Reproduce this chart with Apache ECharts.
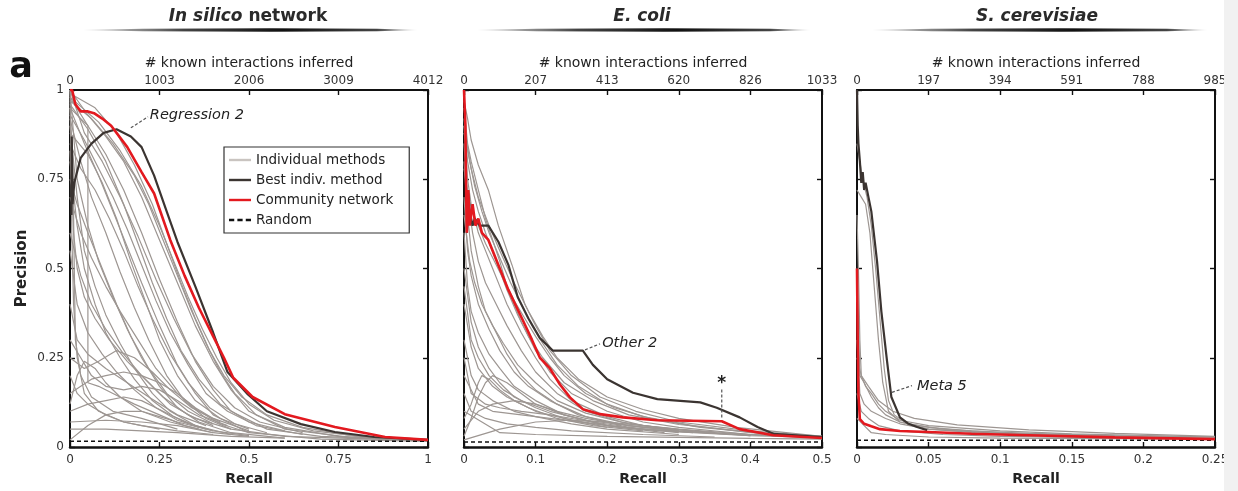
<!DOCTYPE html>
<html><head><meta charset="utf-8">
<script src="https://cdn.jsdelivr.net/npm/echarts@6/dist/echarts.min.js"></script>
<style>html,body{margin:0;padding:0;background:#fff}#c{width:1238px;height:491px}</style>
</head><body><div id="c"></div><script>
// ---------------- DATA ----------------
const panelTitles = [['In silico', ' network'], ['E. coli', ''], ['S. cerevisiae', '']];
const recallMax = [1, 0.5, 0.25];
const recallStep = [0.25, 0.1, 0.05];
const precisionTicks = ['0', '0.25', '0.5', '0.75', '1'];
const topTickLabels = [
  ['0', '1003', '2006', '3009', '4012'],
  ['0', '207', '413', '620', '826', '1033'],
  ['0', '197', '394', '591', '788', '985']
];
const randomPrecision = [0.016, 0.014, 0.019];
const legendNames = ['Individual methods', 'Best indiv. method', 'Community network', 'Random'];

// In silico network
const silicoGray = [
  [[0,1],[0.05,0.93],[0.1,0.87],[0.15,0.8],[0.2,0.7],[0.25,0.58],[0.3,0.46],[0.35,0.34],[0.4,0.24],[0.45,0.16],[0.5,0.1],[0.6,0.05],[0.8,0.025],[1,0.018]],
  [[0,0.98],[0.05,0.9],[0.1,0.82],[0.15,0.72],[0.2,0.6],[0.25,0.47],[0.3,0.35],[0.35,0.24],[0.4,0.16],[0.45,0.1],[0.55,0.05],[0.7,0.03],[1,0.018]],
  [[0,0.95],[0.04,0.85],[0.08,0.76],[0.12,0.66],[0.16,0.56],[0.2,0.46],[0.25,0.34],[0.3,0.23],[0.35,0.15],[0.4,0.09],[0.5,0.04],[0.7,0.022],[1,0.016]],
  [[0,0.92],[0.03,0.8],[0.06,0.7],[0.1,0.6],[0.14,0.49],[0.18,0.39],[0.22,0.3],[0.27,0.2],[0.32,0.13],[0.38,0.08],[0.45,0.05],[0.6,0.03],[1,0.017]],
  [[0,1],[0.02,0.75],[0.05,0.62],[0.08,0.52],[0.12,0.42],[0.16,0.33],[0.2,0.25],[0.25,0.17],[0.3,0.11],[0.36,0.07],[0.45,0.04],[0.6,0.025]],
  [[0,0.9],[0.02,0.7],[0.04,0.55],[0.07,0.45],[0.1,0.37],[0.14,0.29],[0.18,0.22],[0.23,0.15],[0.28,0.1],[0.35,0.06],[0.45,0.035]],
  [[0,0.97],[0.06,0.92],[0.12,0.85],[0.18,0.76],[0.22,0.68],[0.26,0.58],[0.3,0.48],[0.34,0.38],[0.38,0.29],[0.42,0.21],[0.46,0.15],[0.52,0.09],[0.6,0.055],[0.75,0.03],[1,0.018]],
  [[0,0.85],[0.03,0.78],[0.07,0.72],[0.11,0.64],[0.15,0.55],[0.19,0.45],[0.23,0.36],[0.28,0.26],[0.33,0.18],[0.39,0.11],[0.46,0.065],[0.55,0.04]],
  [[0,0.7],[0.03,0.6],[0.06,0.53],[0.1,0.45],[0.14,0.38],[0.19,0.3],[0.24,0.22],[0.3,0.15],[0.36,0.1],[0.42,0.065],[0.5,0.04]],
  [[0,0.15],[0.03,0.17],[0.06,0.19],[0.1,0.2],[0.15,0.21],[0.2,0.2],[0.25,0.18],[0.3,0.15],[0.35,0.11],[0.4,0.08],[0.5,0.045]],
  [[0,0.95],[0.03,0.92],[0.05,0.9],[0.05,0.18],[0.08,0.17],[0.12,0.15],[0.18,0.12],[0.25,0.09],[0.32,0.06],[0.4,0.04]],
  [[0,0.1],[0.05,0.12],[0.1,0.13],[0.15,0.14],[0.2,0.13],[0.26,0.1],[0.32,0.07],[0.4,0.045]],
  [[0,0.07],[0.1,0.075],[0.2,0.07],[0.3,0.06],[0.4,0.04],[0.5,0.03]],
  [[0,0.2],[0.02,0.15],[0.05,0.12],[0.1,0.09],[0.15,0.07],[0.2,0.06],[0.3,0.045],[0.4,0.035]],
  [[0,1],[0.04,0.88],[0.09,0.8],[0.14,0.7],[0.19,0.59],[0.24,0.47],[0.29,0.36],[0.34,0.26],[0.4,0.17],[0.46,0.11],[0.53,0.07],[0.65,0.04]],
  [[0,0.8],[0.02,0.62],[0.04,0.5],[0.07,0.4],[0.1,0.32],[0.14,0.25],[0.18,0.19],[0.23,0.13],[0.29,0.085],[0.36,0.055]],
  [[0,0.6],[0.03,0.48],[0.06,0.4],[0.1,0.33],[0.15,0.26],[0.2,0.2],[0.26,0.14],[0.33,0.09],[0.4,0.06]],
  [[0,0.98],[0.08,0.91],[0.14,0.83],[0.2,0.73],[0.25,0.62],[0.29,0.52],[0.33,0.42],[0.37,0.33],[0.41,0.25],[0.45,0.18],[0.5,0.12],[0.57,0.075],[0.68,0.045],[0.85,0.025],[1,0.018]],
  [[0,0.25],[0.04,0.22],[0.08,0.24],[0.13,0.27],[0.18,0.25],[0.23,0.21],[0.28,0.16],[0.34,0.11],[0.42,0.07]],
  [[0,0.4],[0.02,0.3],[0.05,0.26],[0.1,0.22],[0.16,0.18],[0.22,0.14],[0.3,0.09],[0.38,0.06]],
  [[0,0.88],[0.05,0.82],[0.09,0.74],[0.13,0.64],[0.17,0.52],[0.21,0.41],[0.25,0.3],[0.3,0.2],[0.35,0.13],[0.42,0.08],[0.5,0.05]],
  [[0,0.05],[0.1,0.05],[0.2,0.045],[0.3,0.04],[0.45,0.03],[0.6,0.025]],
  [[0,1],[0.005,0.6],[0.01,0.4],[0.02,0.25],[0.04,0.15],[0.08,0.1],[0.15,0.07],[0.25,0.05]],
  [[0,0.95],[0.008,0.8],[0.012,0.5],[0.015,0.3],[0.03,0.2],[0.06,0.14],[0.12,0.1],[0.2,0.08],[0.3,0.05]],
  [[0,0.93],[0.04,0.86],[0.08,0.78],[0.12,0.7],[0.16,0.61],[0.2,0.51],[0.24,0.41],[0.28,0.32],[0.33,0.23],[0.38,0.15],[0.44,0.1],[0.52,0.06],[0.65,0.035]],
  [[0,0.96],[0.05,0.89],[0.1,0.8],[0.15,0.68],[0.19,0.57],[0.23,0.46],[0.27,0.36],[0.31,0.27],[0.36,0.19],[0.42,0.12],[0.5,0.07],[0.6,0.045]],
  [[0,0.75],[0.02,0.68],[0.05,0.6],[0.09,0.5],[0.13,0.4],[0.17,0.31],[0.22,0.22],[0.27,0.15],[0.33,0.1],[0.4,0.065]],
  [[0,0.55],[0.02,0.4],[0.05,0.32],[0.09,0.26],[0.13,0.21],[0.18,0.16],[0.24,0.11],[0.3,0.075],[0.38,0.05]],
  [[0,0.12],[0.02,0.2],[0.04,0.24],[0.07,0.22],[0.1,0.18],[0.14,0.14],[0.2,0.1],[0.28,0.07],[0.36,0.05]],
  [[0,0.3],[0.03,0.25],[0.06,0.2],[0.1,0.17],[0.15,0.16],[0.2,0.17],[0.25,0.16],[0.3,0.13],[0.36,0.09],[0.44,0.06]],
  [[0,0.02],[0.05,0.06],[0.1,0.09],[0.15,0.1],[0.2,0.1],[0.25,0.085],[0.3,0.07],[0.4,0.045],[0.5,0.032]],
  [[0,0.99],[0.07,0.95],[0.13,0.88],[0.18,0.79],[0.23,0.68],[0.27,0.57],[0.31,0.46],[0.35,0.36],[0.39,0.27],[0.43,0.2],[0.48,0.14],[0.55,0.09],[0.65,0.055],[0.8,0.03],[1,0.018]],
  [[0,0.83],[0.01,0.6],[0.02,0.5],[0.04,0.42],[0.07,0.36],[0.11,0.3],[0.16,0.24],[0.22,0.18],[0.28,0.12],[0.35,0.08],[0.45,0.05]]
];
const silicoBest = [[0.004,0.65],[0.005,0.87],[0.007,0.68],[0.012,0.74],[0.03,0.81],[0.045,0.83],[0.06,0.85],[0.094,0.88],[0.13,0.89],[0.17,0.87],[0.2,0.84],[0.235,0.76],[0.27,0.66],[0.3,0.575],[0.35,0.45],[0.4,0.32],[0.44,0.21],[0.497,0.147],[0.55,0.1],[0.645,0.064],[0.74,0.042],[0.85,0.028],[1,0.02]];
const silicoCommunity = [[0,1],[0.006,1],[0.015,0.96],[0.03,0.94],[0.05,0.94],[0.067,0.935],[0.09,0.92],[0.115,0.9],[0.16,0.84],[0.2,0.77],[0.235,0.71],[0.28,0.58],[0.32,0.48],[0.36,0.39],[0.4,0.31],[0.43,0.25],[0.456,0.194],[0.51,0.14],[0.6,0.092],[0.74,0.056],[0.88,0.028],[1,0.02]];

// E. coli
const ecoliGray = [
  [[0,0.95],[0.005,0.85],[0.01,0.8],[0.02,0.72],[0.03,0.64],[0.04,0.58],[0.05,0.52],[0.06,0.45],[0.07,0.4],[0.08,0.35],[0.1,0.27],[0.12,0.21],[0.15,0.15],[0.2,0.1],[0.25,0.07],[0.3,0.055],[0.4,0.035],[0.5,0.025]],
  [[0,0.9],[0.005,0.75],[0.01,0.68],[0.02,0.6],[0.03,0.55],[0.04,0.5],[0.05,0.45],[0.06,0.4],[0.08,0.32],[0.1,0.25],[0.12,0.19],[0.15,0.13],[0.2,0.085],[0.25,0.06],[0.32,0.045],[0.4,0.032]],
  [[0,0.85],[0.005,0.7],[0.012,0.6],[0.02,0.52],[0.03,0.46],[0.045,0.4],[0.06,0.34],[0.08,0.27],[0.1,0.21],[0.13,0.15],[0.17,0.1],[0.22,0.07],[0.3,0.045]],
  [[0,0.8],[0.005,0.65],[0.01,0.55],[0.02,0.45],[0.03,0.38],[0.045,0.32],[0.06,0.26],[0.08,0.2],[0.1,0.16],[0.13,0.12],[0.17,0.085],[0.23,0.06],[0.3,0.045]],
  [[0,0.7],[0.005,0.55],[0.01,0.48],[0.02,0.4],[0.035,0.33],[0.05,0.27],[0.07,0.21],[0.09,0.17],[0.12,0.13],[0.16,0.09],[0.22,0.06]],
  [[0,0.6],[0.005,0.45],[0.01,0.38],[0.02,0.32],[0.035,0.26],[0.05,0.22],[0.07,0.17],[0.1,0.13],[0.14,0.09],[0.2,0.06],[0.28,0.04]],
  [[0,0.5],[0.01,0.35],[0.02,0.28],[0.035,0.22],[0.05,0.18],[0.07,0.14],[0.1,0.11],[0.14,0.08],[0.2,0.055]],
  [[0,0.4],[0.01,0.28],[0.02,0.22],[0.04,0.17],[0.06,0.14],[0.09,0.11],[0.13,0.08],[0.18,0.06],[0.25,0.045]],
  [[0,0.88],[0.008,0.8],[0.015,0.73],[0.025,0.66],[0.035,0.6],[0.05,0.53],[0.065,0.46],[0.08,0.4],[0.095,0.34],[0.11,0.29],[0.13,0.23],[0.16,0.17],[0.2,0.12],[0.25,0.085],[0.32,0.06],[0.4,0.04],[0.5,0.028]],
  [[0,0.3],[0.01,0.2],[0.02,0.16],[0.04,0.13],[0.07,0.1],[0.1,0.085],[0.15,0.065],[0.2,0.05],[0.3,0.035]],
  [[0,0.03],[0.01,0.08],[0.02,0.14],[0.03,0.18],[0.04,0.2],[0.06,0.18],[0.08,0.15],[0.1,0.12],[0.14,0.09],[0.2,0.06],[0.3,0.04]],
  [[0,0.05],[0.02,0.1],[0.04,0.12],[0.07,0.13],[0.1,0.12],[0.13,0.1],[0.17,0.08],[0.23,0.06],[0.3,0.045],[0.4,0.032]],
  [[0,0.02],[0.05,0.05],[0.1,0.07],[0.15,0.075],[0.2,0.07],[0.25,0.06],[0.3,0.05],[0.4,0.035],[0.5,0.027]],
  [[0,0.15],[0.01,0.1],[0.03,0.08],[0.06,0.065],[0.1,0.055],[0.15,0.045],[0.25,0.035],[0.35,0.028]],
  [[0,0.78],[0.006,0.7],[0.012,0.66],[0.02,0.62],[0.03,0.57],[0.04,0.53],[0.055,0.47],[0.07,0.41],[0.085,0.36],[0.1,0.31],[0.12,0.25],[0.14,0.2],[0.17,0.15],[0.21,0.11],[0.26,0.08],[0.33,0.055],[0.42,0.038]],
  [[0,0.97],[0.005,0.92],[0.01,0.86],[0.02,0.79],[0.034,0.72],[0.048,0.62],[0.067,0.51],[0.085,0.4],[0.1,0.34],[0.12,0.27],[0.15,0.2],[0.19,0.14],[0.24,0.1],[0.3,0.07],[0.4,0.045],[0.5,0.03]],
  [[0,0.2],[0.02,0.12],[0.04,0.1],[0.08,0.09],[0.12,0.08],[0.16,0.07],[0.22,0.055],[0.3,0.042],[0.4,0.032],[0.5,0.026]],
  [[0,0.1],[0.05,0.04],[0.1,0.035],[0.2,0.03],[0.3,0.027],[0.4,0.024],[0.5,0.022]],
  [[0,0.9],[0.01,0.78],[0.02,0.7],[0.035,0.62],[0.05,0.55],[0.07,0.46],[0.09,0.38],[0.11,0.31],[0.13,0.25],[0.16,0.19],[0.2,0.14],[0.25,0.105],[0.3,0.08],[0.38,0.055],[0.5,0.03]],
  [[0,0.92],[0.005,0.8],[0.012,0.72],[0.02,0.66],[0.03,0.6],[0.045,0.52],[0.06,0.44],[0.075,0.37],[0.09,0.31],[0.11,0.25],[0.14,0.18],[0.18,0.13],[0.23,0.09],[0.3,0.063],[0.4,0.042],[0.5,0.03]],
  [[0,0.65],[0.008,0.52],[0.015,0.46],[0.025,0.4],[0.04,0.34],[0.055,0.29],[0.075,0.23],[0.1,0.18],[0.13,0.13],[0.17,0.095],[0.23,0.065],[0.3,0.048]],
  [[0,0.25],[0.01,0.15],[0.03,0.12],[0.05,0.11],[0.08,0.1],[0.12,0.09],[0.18,0.07],[0.25,0.05],[0.35,0.038],[0.5,0.027]],
  [[0,0.08],[0.01,0.12],[0.02,0.18],[0.025,0.2],[0.035,0.19],[0.05,0.16],[0.07,0.13],[0.1,0.1],[0.15,0.075],[0.22,0.055],[0.32,0.04]],
  [[0,0.45],[0.01,0.3],[0.02,0.25],[0.035,0.2],[0.055,0.16],[0.08,0.13],[0.12,0.1],[0.17,0.075],[0.25,0.055],[0.35,0.04]]
];
const ecoliBest = [[0.004,0.6],[0.006,0.71],[0.008,0.66],[0.012,0.62],[0.015,0.64],[0.022,0.62],[0.034,0.62],[0.048,0.575],[0.062,0.51],[0.075,0.42],[0.09,0.36],[0.106,0.305],[0.124,0.27],[0.166,0.27],[0.18,0.23],[0.2,0.19],[0.236,0.152],[0.27,0.134],[0.33,0.125],[0.353,0.11],[0.385,0.083],[0.41,0.056],[0.432,0.037],[0.5,0.028]];
const ecoliCommunity = [[0,1],[0.002,0.9],[0.003,0.7],[0.004,0.6],[0.006,0.72],[0.008,0.62],[0.012,0.68],[0.016,0.62],[0.02,0.64],[0.025,0.6],[0.034,0.58],[0.048,0.51],[0.062,0.44],[0.081,0.36],[0.095,0.3],[0.106,0.25],[0.12,0.22],[0.134,0.175],[0.148,0.139],[0.166,0.106],[0.19,0.092],[0.222,0.083],[0.27,0.075],[0.36,0.072],[0.385,0.05],[0.432,0.033],[0.5,0.025]];

// S. cerevisiae
const yeastGray = [
  [[0,0.72],[0.003,0.7],[0.006,0.68],[0.009,0.6],[0.012,0.45],[0.015,0.3],[0.018,0.18],[0.022,0.1],[0.03,0.07],[0.05,0.05],[0.1,0.035],[0.2,0.027]],
  [[0,0.65],[0.001,0.5],[0.002,0.3],[0.003,0.2],[0.006,0.17],[0.01,0.15],[0.015,0.12],[0.02,0.1],[0.03,0.075],[0.05,0.06],[0.1,0.045],[0.15,0.037],[0.25,0.028]],
  [[0,0.5],[0.002,0.2],[0.005,0.18],[0.01,0.14],[0.015,0.11],[0.02,0.09],[0.03,0.07],[0.05,0.055],[0.08,0.045],[0.12,0.038],[0.18,0.032],[0.25,0.028]],
  [[0,0.3],[0.002,0.15],[0.005,0.12],[0.01,0.1],[0.02,0.08],[0.03,0.065],[0.05,0.05],[0.1,0.038],[0.2,0.028]],
  [[0,0.15],[0.003,0.1],[0.008,0.08],[0.015,0.06],[0.03,0.045],[0.06,0.035],[0.1,0.03],[0.2,0.025]],
  [[0,0.08],[0.005,0.06],[0.01,0.04],[0.02,0.035],[0.05,0.028],[0.1,0.025],[0.25,0.022]],
  [[0,0.85],[0.002,0.8],[0.004,0.75],[0.007,0.7],[0.01,0.62],[0.013,0.5],[0.016,0.36],[0.019,0.22],[0.022,0.13],[0.026,0.09],[0.035,0.065],[0.06,0.05],[0.12,0.035],[0.25,0.025]],
  [[0,0.25],[0.003,0.2],[0.008,0.17],[0.015,0.13],[0.025,0.1],[0.04,0.08],[0.07,0.062],[0.12,0.048],[0.18,0.038],[0.25,0.03]]
];
const yeastBest = [[0,1],[0.0005,0.9],[0.001,0.85],[0.002,0.8],[0.003,0.74],[0.004,0.77],[0.005,0.72],[0.006,0.74],[0.008,0.7],[0.01,0.66],[0.014,0.52],[0.017,0.38],[0.021,0.24],[0.024,0.14],[0.03,0.083],[0.036,0.065],[0.042,0.056],[0.049,0.047]];
const yeastCommunity = [[0,0.5],[0.0005,0.3],[0.001,0.15],[0.002,0.078],[0.005,0.065],[0.01,0.058],[0.016,0.05],[0.03,0.045],[0.05,0.042],[0.08,0.037],[0.12,0.033],[0.18,0.027],[0.25,0.022]];

// annotations in data coordinates: [panel, text, leaderFrom, leaderTo, textPos]
const annotations = [
  [0, 'Regression 2', [0.17, 0.894], [0.218, 0.925], [0.223, 0.928]],
  [1, 'Other 2', [0.169, 0.272], [0.19, 0.289], [0.193, 0.292]],
  [2, 'Meta 5', [0.0244, 0.153], [0.0384, 0.172], [0.0419, 0.169]]
];
const starMark = [1, [0.36, 0.186], [0.36, 0.161], [0.36, 0.078]];

// ---------------- CHART ----------------
const FONT = '"DejaVu Sans", sans-serif';
const GRAY = '#9d9692', BEST = '#3b3431', RED = '#e3191f';
const gridLefts = [70, 464, 857];
const grays = [silicoGray, ecoliGray, yeastGray];
const bests = [silicoBest, ecoliBest, yeastBest];
const comms = [silicoCommunity, ecoliCommunity, yeastCommunity];

const chart = echarts.init(document.getElementById('c'), null, {renderer: 'canvas'});
const grid = [], xAxis = [], yAxis = [], series = [];
const bestIndex = [];
const fmtNum = v => String(parseFloat(v.toFixed(3)));
const tickStyle = {inside: true, length: 5, lineStyle: {color: '#111', width: 1.4}};

for (let i = 0; i < 3; i++) {
  grid.push({left: gridLefts[i], top: 90, width: 358, height: 360});
  xAxis.push({
    type: 'value', gridIndex: i, min: 0, max: recallMax[i], interval: recallStep[i], position: 'bottom',
    name: 'Recall', nameLocation: 'middle', nameGap: 25,
    nameTextStyle: {fontFamily: FONT, fontSize: 14, fontWeight: 'bold', color: '#222'},
    axisLine: {show: true, onZero: false, lineStyle: {color: '#111', width: 2.5}},
    axisTick: tickStyle,
    axisLabel: {margin: 7, fontSize: 12, color: '#333', fontFamily: FONT, formatter: fmtNum},
    splitLine: {show: false}
  });
  xAxis.push({
    type: 'value', gridIndex: i, min: 0, max: topTickLabels[i].length - 1, interval: 1, position: 'top',
    name: '# known interactions inferred', nameLocation: 'middle', nameGap: 19,
    nameTextStyle: {fontFamily: FONT, fontSize: 14, color: '#222'},
    axisLine: {show: true, onZero: false, lineStyle: {color: '#111', width: 2}},
    axisTick: tickStyle,
    axisLabel: {margin: 3, fontSize: 12, color: '#333', fontFamily: FONT, formatter: v => topTickLabels[i][Math.round(v)]},
    splitLine: {show: false}
  });
  yAxis.push({
    type: 'value', gridIndex: i, min: 0, max: 1, interval: 0.25, position: 'left',
    name: i === 0 ? 'Precision' : '', nameLocation: 'middle', nameGap: 40, nameRotate: 90,
    nameTextStyle: {fontFamily: FONT, fontSize: 15, fontWeight: 'bold', color: '#222'},
    axisLine: {show: true, onZero: false, lineStyle: {color: '#111', width: 2}},
    axisTick: tickStyle,
    axisLabel: {show: i === 0, margin: 6, fontSize: 12, color: '#333', fontFamily: FONT,
      formatter: v => precisionTicks[Math.round(v * 4)]},
    splitLine: {show: false}
  });
  yAxis.push({
    type: 'value', gridIndex: i, min: 0, max: 1, interval: 0.25, position: 'right',
    axisLine: {show: true, onZero: false, lineStyle: {color: '#111', width: 2}},
    axisTick: tickStyle, axisLabel: {show: false}, splitLine: {show: false}
  });
  const base = {type: 'line', xAxisIndex: 2 * i, yAxisIndex: 2 * i, symbol: 'none', showSymbol: false, silent: true, animation: false, clip: true};
  grays[i].forEach(d => series.push(Object.assign({}, base, {
    name: legendNames[0], data: d, z: 2, lineStyle: {color: GRAY, width: 1.2}, itemStyle: {color: GRAY}
  })));
  series.push(Object.assign({}, base, {
    name: legendNames[3], data: [[0, randomPrecision[i]], [recallMax[i], randomPrecision[i]]], z: 3,
    lineStyle: {color: '#111', width: 1.6, type: [4, 3]}, itemStyle: {color: '#111'}
  }));
  bestIndex.push(series.length);
  series.push(Object.assign({}, base, {
    name: legendNames[1], data: bests[i], z: 4, lineStyle: {color: BEST, width: 2.2}, itemStyle: {color: BEST}
  }));
  series.push(Object.assign({}, base, {
    name: legendNames[2], data: comms[i], z: 5, lineStyle: {color: RED, width: 2.6}, itemStyle: {color: RED}
  }));
}

const dashIcon = 'path://M0,0h5v2h-5zM8,0h5v2h-5zM16,0h5v2h-5z';
chart.setOption({
  animation: false,
  backgroundColor: '#fff',
  grid, xAxis, yAxis, series,
  legend: {
    left: 224, top: 147, orient: 'vertical', itemWidth: 22, itemHeight: 2.4, itemGap: 6,
    symbolKeepAspect: false,
    padding: [6, 16, 6, 5], borderColor: '#333', borderWidth: 1.2, backgroundColor: '#fff',
    textStyle: {fontFamily: FONT, fontSize: 13.5, color: '#222', lineHeight: 14},
    selectedMode: false, z: 20,
    data: [
      {name: legendNames[0], icon: 'rect', itemStyle: {color: '#c9c4c0'}},
      {name: legendNames[1], icon: 'rect', itemStyle: {color: BEST}},
      {name: legendNames[2], icon: 'rect', itemStyle: {color: RED}},
      {name: legendNames[3], icon: dashIcon, itemStyle: {color: '#111'}}
    ]
  }
});

// ---------------- GRAPHIC (titles, labels, annotations) ----------------
const elements = [];
const titleCenters = [248, 642, 1037];
const lineSpans = [[83, 417], [477, 810], [872, 1207]];
for (let i = 0; i < 3; i++) {
  const t = panelTitles[i];
  elements.push({
    type: 'text', x: titleCenters[i], y: 17, z: 50,
    style: {
      text: '{i|' + t[0] + '}' + (t[1] ? '{b|' + t[1] + '}' : ''),
      align: 'center', verticalAlign: 'middle',
      rich: {
        i: {fontFamily: FONT, fontSize: 17, fontWeight: 'bold', fontStyle: 'italic', fill: '#2a2a2a'},
        b: {fontFamily: FONT, fontSize: 17, fontWeight: 'bold', fill: '#2a2a2a'}
      }
    }
  });
  const [x0, x1] = lineSpans[i];
  const xm = (x0 + x1) / 2 + 20;
  elements.push({
    type: 'polygon', z: 50,
    shape: {points: [[x0, 30], [x0 + 60, 28.8], [xm, 28.2], [x1 - 40, 28.8], [x1, 30], [x1 - 40, 31.2], [xm, 31.8], [x0 + 60, 31.2]]},
    style: {fill: new echarts.graphic.LinearGradient(0, 0, 1, 0, [
      {offset: 0, color: 'rgba(80,80,80,0.2)'},
      {offset: 0.3, color: '#444'},
      {offset: 0.6, color: '#111'},
      {offset: 0.88, color: '#444'},
      {offset: 1, color: 'rgba(80,80,80,0.2)'}
    ])}
  });
}
elements.push({
  type: 'text', x: 21, y: 68, z: 50,
  style: {text: 'a', fontFamily: FONT, fontSize: 35, fontWeight: 'bold', fill: '#111', align: 'center', verticalAlign: 'middle'}
});

annotations.forEach(([p, txt, a, b, tp]) => {
  const sIdx = bestIndex[p];
  const pa = chart.convertToPixel({seriesIndex: sIdx}, a);
  const pb = chart.convertToPixel({seriesIndex: sIdx}, b);
  const pt = chart.convertToPixel({seriesIndex: sIdx}, tp);
  elements.push({type: 'line', z: 40, shape: {x1: pa[0], y1: pa[1], x2: pb[0], y2: pb[1]},
    style: {stroke: '#555', lineWidth: 1.2, lineDash: [3, 2]}});
  elements.push({type: 'text', z: 40, x: pt[0], y: pt[1],
    style: {text: txt, fontFamily: FONT, fontSize: 14.5, fontStyle: 'italic', fill: '#222', align: 'left', verticalAlign: 'middle'}});
});
{
  const [p, s, a, b] = starMark;
  const sIdx = bestIndex[p];
  const ps = chart.convertToPixel({seriesIndex: sIdx}, s);
  const pa = chart.convertToPixel({seriesIndex: sIdx}, a);
  const pb = chart.convertToPixel({seriesIndex: sIdx}, b);
  elements.push({type: 'line', z: 40, shape: {x1: pa[0], y1: pa[1], x2: pb[0], y2: pb[1]},
    style: {stroke: '#555', lineWidth: 1.2, lineDash: [3, 2]}});
  elements.push({type: 'text', z: 40, x: ps[0], y: ps[1] + 3,
    style: {text: '*', fontFamily: FONT, fontSize: 17, fontWeight: 'bold', fill: '#222', align: 'center', verticalAlign: 'middle'}});
}
elements.push({type: 'rect', z: 100, shape: {x: 1224, y: 0, width: 14, height: 491}, style: {fill: '#f1f1f1'}});

chart.setOption({graphic: {elements}});
</script></body></html>
